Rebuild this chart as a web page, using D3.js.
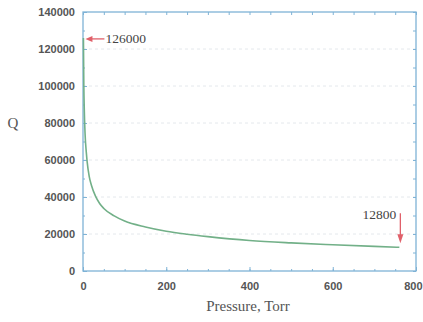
<!DOCTYPE html>
<html><head><meta charset="utf-8">
<script src="https://cdn.jsdelivr.net/npm/d3@7"></script>
<style>body{margin:0;background:#fff}svg{display:block}</style>
</head><body>
<svg id="c" width="423" height="322"></svg>
<script>
const pressure = [1, 2, 3, 5, 8, 10, 15, 20, 30, 40, 50, 75, 100, 150, 200, 250, 300, 400, 500, 600, 700, 760];
const qValues  = [126000, 100000, 88000, 74000, 64000, 59000, 51000, 46500, 40500, 36500, 33800, 29800, 27000, 23800, 21500, 19900, 18600, 16500, 15200, 14200, 13300, 12800];
const xTicks = [0, 200, 400, 600, 800];
const yTicks = [0, 20000, 40000, 60000, 80000, 100000, 120000, 140000];
const annotations = [{p: 1, q: 126000, label: "126000"}, {p: 760, q: 12800, label: "12800"}];

const svg = d3.select("#c");
const m = {l: 83, r: 416, t: 12, b: 271};
const x = d3.scaleLinear().domain([0, 800]).range([m.l, m.r]);
const y = d3.scaleLinear().domain([0, 140000]).range([m.b, m.t]);

// grid
svg.append("g").selectAll("line").data(yTicks.slice(1, -1)).join("line")
  .attr("x1", m.l).attr("x2", m.r).attr("y1", d => y(d)).attr("y2", d => y(d))
  .attr("stroke", "#e4e8ec").attr("stroke-width", 1).attr("stroke-dasharray", "3,3");

const fmt = d3.format("d");
const ax = (g, axis) => g.call(axis).call(s => s.select(".domain").remove());
const tickStyle = sel => {
  sel.selectAll(".tick line").attr("stroke", "#7fb3d6");
  sel.selectAll(".tick text").attr("fill", "#555").attr("font-family", "Liberation Sans, Arial, sans-serif")
    .attr("font-weight", "bold").attr("font-size", 11);
};
const xMinor = d3.range(0, 801, 50);
const yMinor = d3.range(0, 140001, 10000);
const gb = svg.append("g").attr("transform", `translate(0,${m.b})`);
ax(gb, d3.axisBottom(x).tickValues(xMinor).tickSize(-2).tickFormat(""));
const gb2 = svg.append("g").attr("transform", `translate(0,${m.b})`);
ax(gb2, d3.axisBottom(x).tickValues(xTicks).tickSize(-4).tickPadding(9).tickFormat(fmt));
tickStyle(gb); tickStyle(gb2);
gb2.selectAll(".tick text").attr("dy", "0.9em");
gb2.selectAll(".tick text").filter(d => d === 800).attr("text-anchor", "end").attr("dx", 6);
const gt = svg.append("g").attr("transform", `translate(0,${m.t})`);
ax(gt, d3.axisTop(x).tickValues(xMinor).tickSize(-3).tickFormat(""));
tickStyle(gt);
const gl = svg.append("g").attr("transform", `translate(${m.l},0)`);
ax(gl, d3.axisLeft(y).tickValues(yMinor).tickSize(-2).tickFormat(""));
const gl2 = svg.append("g").attr("transform", `translate(${m.l},0)`);
ax(gl2, d3.axisLeft(y).tickValues(yTicks).tickSize(-4).tickPadding(8).tickFormat(fmt));
tickStyle(gl); tickStyle(gl2);
const gr = svg.append("g").attr("transform", `translate(${m.r},0)`);
ax(gr, d3.axisRight(y).tickValues(yMinor).tickSize(-3).tickFormat(""));
tickStyle(gr);

// frame
svg.append("rect").attr("x", m.l).attr("y", m.t).attr("width", m.r - m.l).attr("height", m.b - m.t)
  .attr("fill", "none").attr("stroke", "#7fb3d6").attr("stroke-width", 1.3);

// curve
const line = d3.line().x((d, i) => x(pressure[i])).y(d => y(d)).curve(d3.curveMonotoneX);
svg.append("path").datum(qValues).attr("d", line)
  .attr("fill", "none").attr("stroke", "#72b088").attr("stroke-width", 1.6);

// annotations
const red = "#e0606a";
const serif = "Liberation Serif, Times New Roman, serif";
const a0 = annotations[0], a1 = annotations[1];
const ay0 = y(a0.q) + 1;
svg.append("line").attr("x1", x(a0.p) + 21).attr("x2", x(a0.p) + 6).attr("y1", ay0).attr("y2", ay0)
  .attr("stroke", red).attr("stroke-width", 1.3);
svg.append("path").attr("d", `M${x(a0.p) + 2},${ay0} l7,-3 l0,6 z`).attr("fill", red);
svg.append("text").attr("x", x(a0.p) + 22).attr("y", ay0 + 4.5).text(a0.label)
  .attr("font-family", serif).attr("font-size", 13.5).attr("fill", "#444");
const ax1 = x(a1.p) + 1;
svg.append("line").attr("x1", ax1).attr("x2", ax1).attr("y1", y(a1.q) - 34).attr("y2", y(a1.q) - 12)
  .attr("stroke", red).attr("stroke-width", 1.3);
svg.append("path").attr("d", `M${ax1},${y(a1.q) - 4} l-3,-9 l6,0 z`).attr("fill", red);
svg.append("text").attr("x", ax1 - 4).attr("y", y(a1.q) - 28).attr("text-anchor", "end").text(a1.label)
  .attr("font-family", serif).attr("font-size", 13.5).attr("fill", "#444");

// axis titles
svg.append("text").attr("x", 248).attr("y", 311).attr("text-anchor", "middle")
  .text("Pressure, Torr").attr("font-family", serif)
  .attr("font-size", 15).attr("fill", "#555");
svg.append("text").attr("x", 13).attr("y", 128).attr("text-anchor", "middle")
  .text("Q").attr("font-family", serif)
  .attr("font-size", 15).attr("fill", "#555");
</script>
</body></html>
